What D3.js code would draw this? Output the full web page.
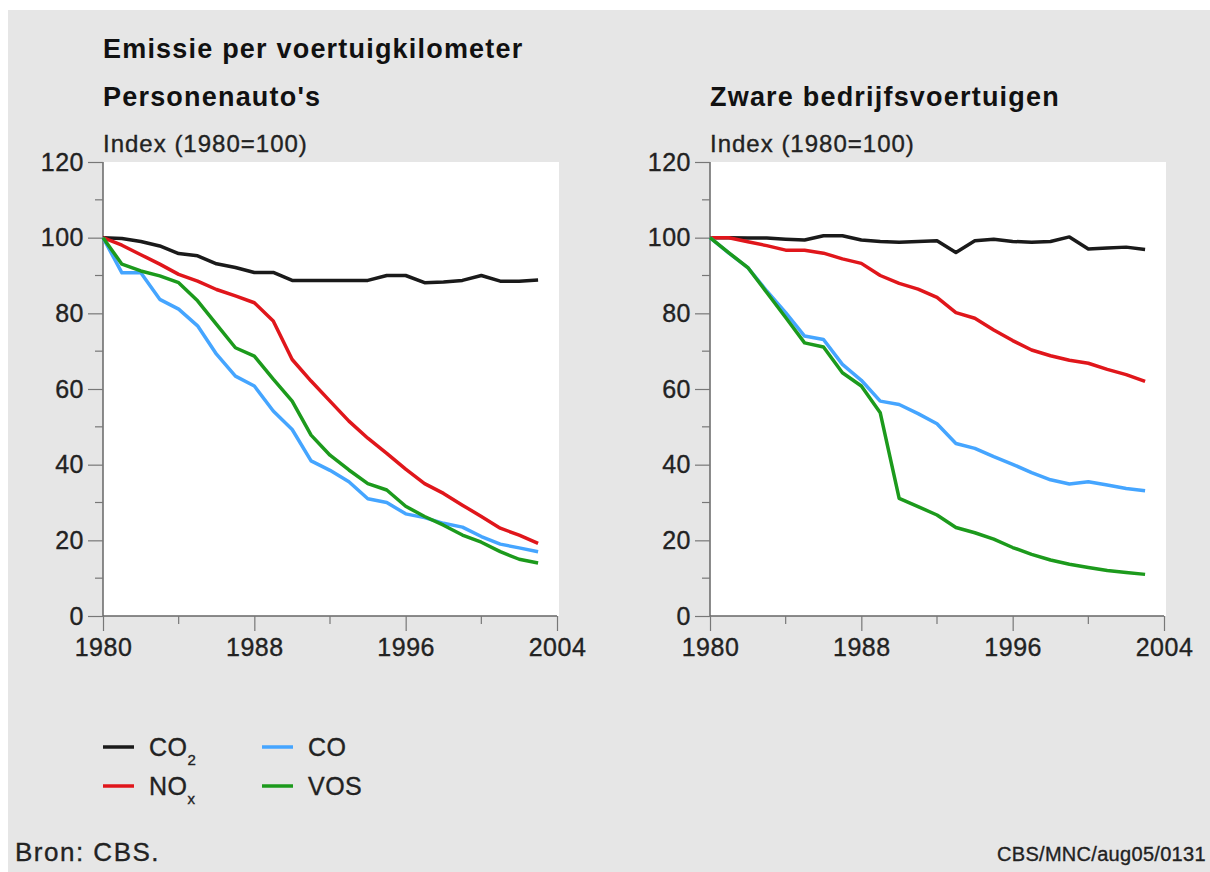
<!DOCTYPE html>
<html>
<head>
<meta charset="utf-8">
<script src="https://cdn.jsdelivr.net/npm/d3@7"></script>
<style>
  body { margin: 0; background: #fff; }
  svg { display: block; font-family: "Liberation Sans", Arial, sans-serif; }
</style>
</head>
<body>
<script>
// data
const years = [1980, 1981, 1982, 1983, 1984, 1985, 1986, 1987, 1988, 1989, 1990, 1991,
               1992, 1993, 1994, 1995, 1996, 1997, 1998, 1999, 2000, 2001, 2002, 2003]

const carsCO2 = [100, 99.8, 99, 97.8, 95.8, 95.2, 93.1, 92.1, 90.8, 90.8, 88.7, 88.7,
                 88.7, 88.7, 88.7, 90, 90, 88.1, 88.3, 88.7, 90, 88.5, 88.5, 88.8]
const carsNOx = [100, 98, 95.5, 93, 90.3, 88.5, 86.3, 84.6, 82.8, 78, 67.8, 62.1,
                 56.8, 51.5, 47, 43, 38.8, 35, 32.4, 29.3, 26.3, 23.2, 21.4, 19.2]
const carsCO  = [100, 90.7, 90.7, 83.7, 81.1, 76.7, 69.2, 63.4, 60.8, 54.2, 49.3, 41,
                 38.5, 35.5, 31, 30, 27, 26, 24.5, 23.5, 21, 19, 18, 17]
const carsVOS = [100, 93, 91.2, 89.9, 88.1, 83.3, 77.1, 70.9, 68.7, 62.6, 56.8, 47.8,
                 42.5, 38.6, 35, 33.3, 29, 26.3, 24, 21.4, 19.5, 17, 15, 14]

const trucksCO2 = [100, 100, 99.9, 99.9, 99.6, 99.4, 100.5, 100.5, 99.4, 99, 98.8, 99,
                   99.2, 96.1, 99.2, 99.6, 99, 98.8, 99, 100.2, 97, 97.3, 97.5, 96.9]
const trucksNOx = [100, 100, 98.9, 97.9, 96.7, 96.7, 95.9, 94.4, 93.2, 90, 87.9, 86.4,
                   84.2, 80.2, 78.7, 75.6, 72.8, 70.3, 68.8, 67.6, 66.8, 65.2, 63.8, 62]
const trucksCO  = [100, 95.9, 92.1, 85.9, 80.2, 74, 73.1, 66.5, 62.3, 56.8, 55.9, 53.5,
                   50.8, 45.6, 44.3, 42.1, 40.1, 37.9, 36, 34.9, 35.5, 34.6, 33.7, 33.1]
const trucksVOS = [100, 96, 92.1, 85.5, 78.9, 72.2, 71.1, 64.3, 60.8, 53.7, 31.1, 28.9,
                   26.7, 23.4, 22, 20.3, 18.1, 16.3, 14.8, 13.7, 12.8, 12, 11.5, 11]

const seriesNames = ['CO2', 'NOx', 'CO', 'VOS']
const colors = { CO2: '#1a1a1a', NOx: '#e0161b', CO: '#45a5ff', VOS: '#1c9a1c' }

const yMajor = [0, 20, 40, 60, 80, 100, 120]
const yMinor = [10, 30, 50, 70, 90, 110]
const xMajor = [1980, 1988, 1996, 2004]
const xMinor = [1984, 1992, 2000]

const width = 1210
const height = 872
const plotTop = 162, plotBottom = 616, plotW = 454

const svg = d3.select('body').append('svg')
  .attr('width', width)
  .attr('height', height)

// grey card
svg.append('rect')
  .attr('x', 8).attr('y', 10)
  .attr('width', width - 8).attr('height', height - 10)
  .attr('fill', '#e6e6e6')

svg.append('text')
  .attr('x', 103).attr('y', 58)
  .attr('font-size', 27).attr('font-weight', 'bold')
  .attr('letter-spacing', 1.2)
  .attr('fill', '#111')
  .text('Emissie per voertuigkilometer')

const panels = [
  { left: 103, title: "Personenauto's", data: { CO2: carsCO2, NOx: carsNOx, CO: carsCO, VOS: carsVOS } },
  { left: 710, title: 'Zware bedrijfsvoertuigen', data: { CO2: trucksCO2, NOx: trucksNOx, CO: trucksCO, VOS: trucksVOS } }
]

const y = d3.scaleLinear().domain([0, 120]).range([plotBottom, plotTop])

// slightly heavier regular text, like the reference
function heavy(sel) {
  sel.attr('stroke', '#222').attr('stroke-width', 0.35)
}

panels.forEach(function (p) {
  const x = d3.scaleLinear().domain([1980, 2004]).range([p.left, p.left + plotW])

  svg.append('text')
    .attr('x', p.left).attr('y', 106)
    .attr('font-size', 27).attr('font-weight', 'bold')
    .attr('letter-spacing', 1.2)
    .attr('fill', '#111')
    .text(p.title)

  svg.append('text')
    .attr('x', p.left).attr('y', 152)
    .attr('font-size', 24)
    .attr('letter-spacing', 1)
    .attr('fill', '#222')
    .text('Index (1980=100)')
    .call(heavy)

  // white plot area
  svg.append('rect')
    .attr('x', x(1980)).attr('y', y(120))
    .attr('width', x(2004) - x(1980) + 2).attr('height', y(0) - y(120))
    .attr('fill', '#fff')

  // y axis
  const yAxis = svg.append('g')
    .attr('transform', `translate(${x(1980)},0)`)
    .call(d3.axisLeft(y).tickValues(yMajor).tickSize(15).tickPadding(4).tickFormat(d3.format('d')))
  yAxis.append('g').selectAll('line')
    .data(yMinor)
    .join('line')
    .attr('x1', 0).attr('x2', -8)
    .attr('y1', d => y(d)).attr('y2', d => y(d))

  // x axis
  const xAxis = svg.append('g')
    .attr('transform', `translate(0,${y(0)})`)
    .call(d3.axisBottom(x).tickValues(xMajor).tickSize(15).tickPadding(2).tickFormat(d3.format('d')))
  xAxis.append('g').selectAll('line')
    .data(xMinor)
    .join('line')
    .attr('x1', d => x(d)).attr('x2', d => x(d))
    .attr('y1', 0).attr('y2', 8)

  svg.selectAll('.domain').attr('stroke', '#666').attr('stroke-width', 1.5)
  yAxis.selectAll('line').attr('stroke', '#777').attr('stroke-width', 1.2)
  xAxis.selectAll('line').attr('stroke', '#777').attr('stroke-width', 1.2)
  svg.selectAll('.tick text')
    .attr('font-size', 25)
    .attr('letter-spacing', 0.5)
    .attr('fill', '#222')
    .attr('font-family', '"Liberation Sans", Arial, sans-serif')
    .call(heavy)
  xAxis.selectAll('.tick text').attr('dy', '0.9em')
  yAxis.select('.domain').attr('d', `M0,${y(120)}V${y(0)}`)
  xAxis.select('.domain').attr('d', `M${x(1980)},0H${x(2004)}`)

  const line = d3.line()
    .x((d, i) => x(years[i]))
    .y(d => y(d))

  seriesNames.forEach(function (name) {
    svg.append('path')
      .datum(p.data[name])
      .attr('fill', 'none')
      .attr('stroke', colors[name])
      .attr('stroke-width', 3.5)
      .attr('stroke-linejoin', 'round')
      .attr('d', line)
  })
})

// legend
const legend = [
  { key: 'CO2', label: 'CO', sub: '2', lx: 103, ly: 747 },
  { key: 'NOx', label: 'NO', sub: 'x', lx: 103, ly: 786 },
  { key: 'CO', label: 'CO', sub: '', lx: 262, ly: 747 },
  { key: 'VOS', label: 'VOS', sub: '', lx: 262, ly: 786 }
]
legend.forEach(function (l) {
  svg.append('line')
    .attr('x1', l.lx).attr('x2', l.lx + 31)
    .attr('y1', l.ly).attr('y2', l.ly)
    .attr('stroke', colors[l.key])
    .attr('stroke-width', 3.5)
  const t = svg.append('text')
    .attr('x', l.lx + 46).attr('y', l.ly + 9)
    .attr('font-size', 25)
    .attr('letter-spacing', 0.5)
    .attr('fill', '#222')
    .text(l.label)
    .call(heavy)
  if (l.sub) {
    t.append('tspan')
      .attr('font-size', 15)
      .attr('dy', 9)
      .text(l.sub)
  }
})

svg.append('text')
  .attr('x', 15).attr('y', 861)
  .attr('font-size', 26)
  .attr('letter-spacing', 1.5)
  .attr('fill', '#222')
  .text('Bron: CBS.')
  .call(heavy)

svg.append('text')
  .attr('x', 997).attr('y', 861)
  .attr('font-size', 20)
  .attr('letter-spacing', 0.3)
  .attr('fill', '#222')
  .text('CBS/MNC/aug05/0131')
  .call(heavy)
</script>
</body>
</html>
